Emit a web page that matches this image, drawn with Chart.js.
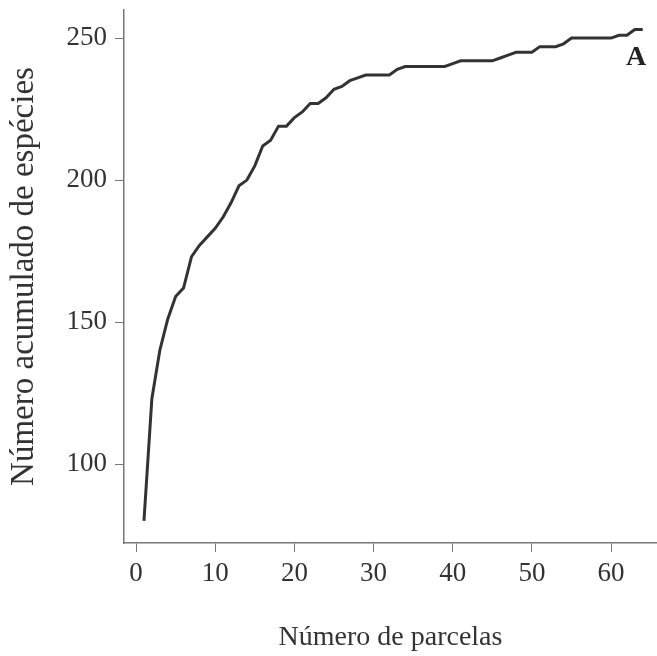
<!DOCTYPE html>
<html lang="pt-BR">
<head>
<meta charset="utf-8"/>
<title>Curva de acumulação de espécies</title>
<script src="https://cdn.jsdelivr.net/npm/chart.js"></script>
<style>
  body { margin: 0; background: #fff; }
  .wrap { width: 657px; height: 656px; position: relative; }
</style>
</head>
<body>
<div class="wrap"><canvas id="grafico"></canvas></div>
<script>
  const parcelas = [1,2,3,4,5,6,7,8,9,10,11,12,13,14,15,16,17,18,19,20,21,22,23,24,25,26,27,28,29,30,31,32,
    33,34,35,36,37,38,39,40,41,42,43,44,45,46,47,48,49,50,51,52,53,54,55,56,57,58,59,60,61,62,63,64];
  const especies = [80,123,140,151,159,162,173,177,180,183,187,192,198,200,205,212,214,219,219,222,224,227,227,229,232,233,235,236,237,237,237,237,
    239,240,240,240,240,240,240,241,242,242,242,242,242,243,244,245,245,245,247,247,247,248,250,250,250,250,250,250,251,251,253,253];
  const ticksX = [0,10,20,30,40,50,60];
  const ticksY = [100,150,200,250];

  const serif = "'Liberation Serif', 'Times New Roman', serif";
  const corEixo = '#777';

  const pontos = parcelas.map((p, i) => ({ x: p, y: especies[i] }));

  // letra do painel
  const letraPainel = {
    id: 'letraPainel',
    afterDraw(chart) {
      const ctx = chart.ctx;
      ctx.save();
      ctx.font = 'bold 28px ' + serif;
      ctx.fillStyle = '#222';
      ctx.textAlign = 'center';
      ctx.textBaseline = 'alphabetic';
      ctx.fillText('A', 636, 65);
      ctx.restore();
    }
  };

  new Chart(document.getElementById('grafico'), {
    type: 'line',
    data: {
      datasets: [{
        data: pontos,
        borderColor: '#333',
        borderWidth: 3,
        pointRadius: 0,
        tension: 0,
        fill: false
      }]
    },
    options: {
      responsive: true,
      maintainAspectRatio: false,
      animation: false,
      layout: { padding: { top: 10, right: 0, left: 0, bottom: 0 } },
      plugins: { legend: { display: false }, tooltip: { enabled: false } },
      scales: {
        x: {
          type: 'linear',
          min: -1.52,
          max: 65.8,
          afterBuildTicks: s => { s.ticks = ticksX.map(v => ({ value: v })); },
          afterFit: s => { s.height = 113; s.paddingLeft = 0; s.paddingRight = 0; },
          grid: { display: true, drawOnChartArea: false, drawTicks: true, tickLength: 9, color: corEixo, lineWidth: 1 },
          border: { display: true, color: corEixo, width: 1.5 },
          ticks: { font: { family: serif, size: 27 }, color: '#333', padding: 6, maxRotation: 0, autoSkip: false },
          title: { display: true, text: 'Número de parcelas', font: { family: serif, size: 28 }, color: '#333', padding: { top: 0, bottom: 2 } }
        },
        y: {
          min: 72.2,
          max: 259.9,
          afterBuildTicks: s => { s.ticks = ticksY.map(v => ({ value: v })); },
          afterFit: s => { s.width = 124; s.paddingTop = 0; s.paddingBottom = 0; },
          grid: { display: true, drawOnChartArea: false, drawTicks: true, tickLength: 9, color: corEixo, lineWidth: 1 },
          border: { display: true, color: corEixo, width: 1.5 },
          ticks: { font: { family: serif, size: 27 }, color: '#333', padding: 8, autoSkip: false },
          title: { display: true, text: 'Número acumulado de espécies', font: { family: serif, size: 33 }, color: '#333', padding: { top: 5, bottom: 0 } }
        }
      }
    },
    plugins: [letraPainel]
  });
</script>
</body>
</html>
